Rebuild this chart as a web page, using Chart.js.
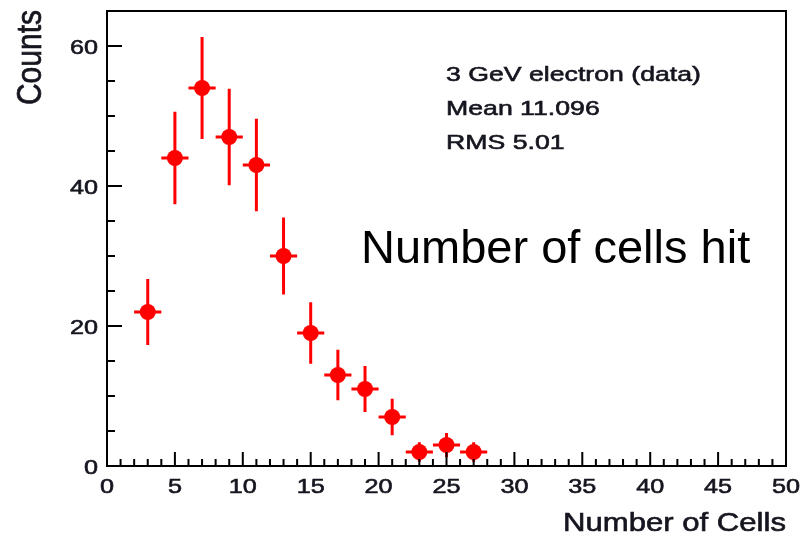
<!DOCTYPE html>
<html>
<head>
<meta charset="utf-8">
<title>Number of cells hit</title>
<script src="https://cdn.jsdelivr.net/npm/chart.js@4/dist/chart.umd.min.js"></script>
<style>
    html, body { margin: 0; padding: 0; background: #fff; }
    canvas { display: block; }
</style>
</head>
<body>
<canvas id="cellsChart" width="810" height="537"></canvas>
<script>
// histogram bins: centre, half width, counts and statistical error
const binCenters = [3, 5, 7, 9, 11, 13, 15, 17, 19, 21, 23, 25, 27];
const binHalfWidths = [1, 1, 1, 1, 1, 1, 1, 1, 1, 1, 1, 1, 1];
const counts = [22, 44, 54, 47, 43, 30, 19, 13, 11, 7, 2, 3, 2];
const countErrors = [4.7, 6.6, 7.3, 6.9, 6.6, 5.5, 4.4, 3.6, 3.3, 2.6, 1.4, 1.7, 1.4];

const xTicks = [0, 5, 10, 15, 20, 25, 30, 35, 40, 45, 50];
const yTicks = [0, 20, 40, 60];

const statsLines = ['3 GeV electron (data)', 'Mean 11.096', 'RMS 5.01'];
const xTitle = 'Number of Cells';
const yTitle = 'Counts';
const caption = 'Number of cells hit';

const RED = '#ff0000';
const INK = '#15151f';
const FONT = '"Liberation Sans", Arial, Helvetica, sans-serif';

// ROOT text comes out wide and heavy, so stretch it a little
function wideText(ctx, text, x, y, size, align, opts = {}) {
    ctx.save();
    ctx.translate(x, y);
    ctx.scale(opts.stretch || 1.2, 1);
    if (opts.rotate) ctx.rotate(-Math.PI / 2);
    ctx.font = size + 'px ' + FONT;
    ctx.textAlign = align;
    ctx.textBaseline = 'alphabetic';
    ctx.fillStyle = INK;
    ctx.strokeStyle = INK;
    ctx.lineWidth = 0.6;
    ctx.fillText(text, 0, 0);
    ctx.strokeText(text, 0, 0);
    ctx.restore();
}

const errorBars = {
    id: 'errorBars',
    beforeDatasetsDraw(chart) {
        const { ctx, scales: { x, y } } = chart;
        ctx.save();
        ctx.strokeStyle = RED;
        ctx.lineWidth = 3;
        ctx.beginPath();
        binCenters.forEach((c, i) => {
            const px = x.getPixelForValue(c);
            const py = y.getPixelForValue(counts[i]);
            ctx.moveTo(px, y.getPixelForValue(counts[i] - countErrors[i]));
            ctx.lineTo(px, y.getPixelForValue(counts[i] + countErrors[i]));
            ctx.moveTo(x.getPixelForValue(c - binHalfWidths[i]), py);
            ctx.lineTo(x.getPixelForValue(c + binHalfWidths[i]), py);
        });
        ctx.stroke();
        ctx.restore();
    }
};

// frame, inward tick marks, tick labels and the rest of the text
const frame = {
    id: 'frame',
    afterDraw(chart) {
        const { ctx, chartArea: a, scales: { x, y } } = chart;
        ctx.save();
        ctx.strokeStyle = '#000';
        ctx.lineWidth = 2;
        ctx.strokeRect(a.left, a.top, a.right - a.left, a.bottom - a.top);

        ctx.beginPath();
        for (let v = 1; v < 50; v++) {
            const px = x.getPixelForValue(v);
            const len = v % 5 === 0 ? 14 : 7;
            ctx.moveTo(px, a.bottom);
            ctx.lineTo(px, a.bottom - len);
        }
        for (let v = 5; v <= 65; v += 5) {
            const py = y.getPixelForValue(v);
            const len = v % 20 === 0 ? 15 : 8;
            ctx.moveTo(a.left, py);
            ctx.lineTo(a.left + len, py);
        }
        ctx.stroke();
        ctx.restore();

        xTicks.forEach(v => wideText(ctx, String(v), x.getPixelForValue(v), a.bottom + 27, 21, 'center'));
        yTicks.forEach(v => wideText(ctx, String(v), a.left - 9, y.getPixelForValue(v) + 7.5, 21, 'right'));

        statsLines.forEach((t, i) => wideText(ctx, t, 446, 81 + i * 34, 21, 'left', { stretch: 1.27 }));
        wideText(ctx, xTitle, a.right, 531, 25.5, 'right', { stretch: 1.22 });
        wideText(ctx, yTitle, 41, 10, 30, 'right', { rotate: true, stretch: 1.15 });

        ctx.save();
        ctx.fillStyle = '#000';
        ctx.font = '47px ' + FONT;
        ctx.textAlign = 'left';
        ctx.textBaseline = 'alphabetic';
        ctx.fillText(caption, 361, 263);
        ctx.restore();
    }
};

new Chart(document.getElementById('cellsChart'), {
    type: 'scatter',
    data: {
        datasets: [{
            data: binCenters.map((c, i) => ({ x: c, y: counts[i] })),
            backgroundColor: RED,
            borderColor: RED,
            pointRadius: 8,
            pointHoverRadius: 8,
            borderWidth: 0
        }]
    },
    options: {
        responsive: false,
        animation: false,
        events: [],
        layout: { padding: { top: 11, right: 24, left: 0, bottom: 0 } },
        plugins: {
            legend: { display: false },
            tooltip: { enabled: false }
        },
        scales: {
            x: {
                type: 'linear',
                min: 0,
                max: 50,
                grid: { display: false, drawTicks: false },
                border: { display: false },
                ticks: { display: false },
                afterFit: s => {
                    s.height = 71;
                    s.paddingLeft = 0;
                    s.paddingRight = 0;
                }
            },
            y: {
                type: 'linear',
                min: 0,
                max: 65,
                grid: { display: false, drawTicks: false },
                border: { display: false },
                ticks: { display: false },
                afterFit: s => {
                    s.width = 107;
                    s.paddingTop = 0;
                    s.paddingBottom = 0;
                }
            }
        }
    },
    plugins: [errorBars, frame]
});
</script>
</body>
</html>
